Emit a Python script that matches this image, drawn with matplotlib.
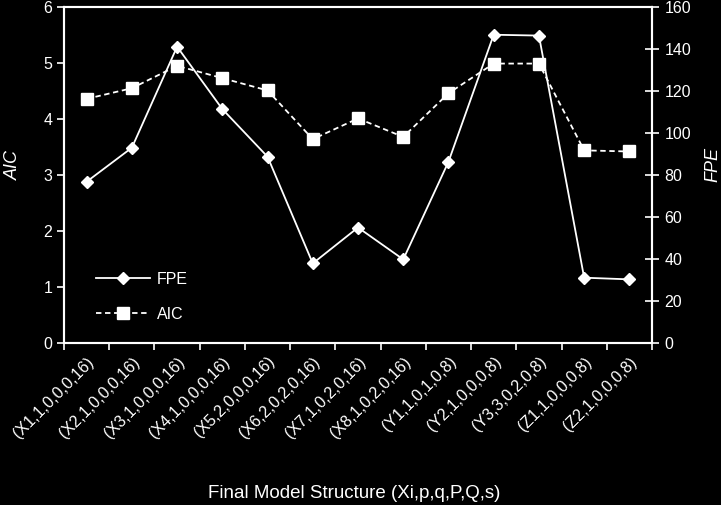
import matplotlib.pyplot as plt
import numpy as np

plt.rcParams['font.family'] = ['Liberation Sans', 'DejaVu Sans']

models = ["(X1,1,0,0,0,16)", "(X2,1,0,0,0,16)", "(X3,1,0,0,0,16)", "(X4,1,0,0,0,16)",
          "(X5,2,0,0,0,16)", "(X6,2,0,2,0,16)", "(X7,1,0,2,0,16)", "(X8,1,0,2,0,16)",
          "(Y1,1,0,1,0,8)", "(Y2,1,0,0,0,8)", "(Y3,3,0,2,0,8)", "(Z1,1,0,0,0,8)",
          "(Z2,1,0,0,0,8)"]
aic = [4.36, 4.55, 4.95, 4.73, 4.51, 3.64, 4.01, 3.68, 4.46, 4.99, 4.99, 3.44, 3.42]
fpe = [76.8, 93.0, 141.1, 111.4, 88.7, 37.9, 55.0, 39.8, 86.3, 146.8, 146.4, 31.1, 30.3]

FG = "white"
BG = "black"

fig = plt.figure(figsize=(7.21, 5.05), dpi=100, facecolor=BG)
ax = fig.add_axes([0.0888, 0.3208, 0.8155, 0.6653], facecolor=BG)
ax2 = ax.twinx()

x = np.arange(len(models))
l_aic, = ax.plot(x, aic, color=FG, lw=1.3, ls=(0, (3, 2)), marker="s", ms=8.5,
                 mfc=FG, mec=FG, label="AIC")
l_fpe, = ax2.plot(x, fpe, color=FG, lw=1.3, marker="D", ms=6.5,
                  mfc=FG, mec=FG, label="FPE")

ax.set_xlim(-0.5, len(models) - 0.5)
ax.set_ylim(0, 6)
ax2.set_ylim(0, 160)
ax.set_yticks(range(0, 7))
ax2.set_yticks(range(0, 161, 20))

# category boundaries get the tick marks, labels sit under the centres
ax.set_xticks(np.arange(-0.5, len(models), 1.0))
ax.set_xticklabels([])
ax.set_xticks(x, minor=True)
ax.set_xticklabels(models, minor=True, rotation=45, ha="right", va="top",
                   rotation_mode="anchor", fontsize=11.6, color=FG)
ax.tick_params(axis="x", which="minor", length=0, pad=8)
ax.tick_params(axis="x", which="major", length=5, width=1.2, color=FG, direction="out")

for a in (ax, ax2):
    for s in a.spines.values():
        s.set_color(FG)
        s.set_linewidth(1.5)
ax.tick_params(axis="y", colors=FG, labelcolor=FG, labelsize=11.5, length=5,
               width=1.2, direction="out")
ax2.tick_params(axis="y", colors=FG, labelcolor=FG, labelsize=11.5, length=10,
                width=1.2, direction="inout", pad=4)

ax.set_ylabel("AIC", color=FG, fontsize=13, style="italic")
ax.yaxis.set_label_coords(-0.072, 0.53)
ax2.set_ylabel("FPE", color=FG, fontsize=13, style="italic")
ax2.yaxis.set_label_coords(1.09, 0.53)
fig.text(0.491, 0.005, "Final Model Structure (Xi,p,q,P,Q,s)", color=FG,
         fontsize=13.5, ha="center", va="bottom")

leg = ax.legend(handles=[l_fpe, l_aic], loc="lower left", bbox_to_anchor=(0.03, 0.02),
                frameon=False, fontsize=11.5, labelcolor=FG, handlelength=3.4,
                handletextpad=0.4, labelspacing=1.25)

fig.savefig("out.png", dpi=100, facecolor=BG)
